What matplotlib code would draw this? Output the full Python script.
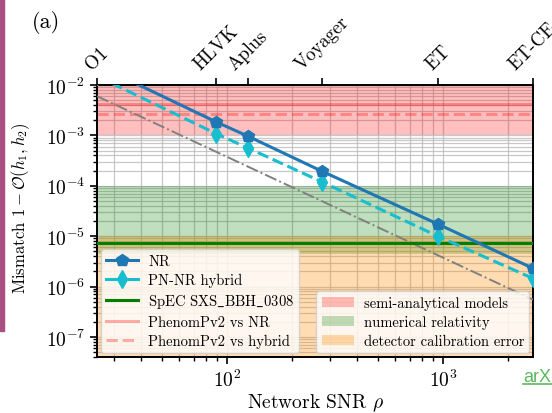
import numpy as np
import matplotlib
matplotlib.use('Agg')
import matplotlib.pyplot as plt
import matplotlib.ticker as mticker
from matplotlib.lines import Line2D
from matplotlib.patches import Patch, Rectangle

plt.rcParams['font.family'] = ['cmr10', 'DejaVu Serif']
plt.rcParams['mathtext.fontset'] = 'cm'
plt.rcParams['axes.formatter.use_mathtext'] = True
plt.rcParams['axes.unicode_minus'] = False

# ── Data ─────────────────────────────────────────────────────────────────────
detectors = ['O1', 'HLVK', 'Aplus', 'Voyager', 'ET', 'ET-CE']
snr       = [25, 89, 125, 274, 943, 2600]

mm_nr     = [2.5e-2, 1.85e-3, 9.6e-4, 1.95e-4, 1.74e-5, 2.3e-6]
mm_hybrid = [1.5e-2, 1.08e-3, 5.6e-4, 1.2e-4, 1.0e-5, 1.45e-6]

ref_snr = [25, 2600]
ref_mm  = [6.0e-3, 5.5e-7]

spec_mm        = 7.3e-6
phenom_nr_mm   = 4.2e-3
phenom_hyb_mm  = 2.6e-3

band_sa  = (1e-3, 1e-2)
band_nr  = (4.5e-6, 1e-4)
band_cal = (1e-9, 1e-5)

# ── Plot ─────────────────────────────────────────────────────────────────────
fig = plt.figure(figsize=(5.52, 4.14), dpi=100)
ax = fig.add_axes([97 / 552, 1 - 358 / 414, (533 - 97) / 552, (358 - 86) / 414])

ax.axhspan(*band_sa, color='red', alpha=0.25, lw=0, zorder=1)
ax.axhspan(*band_nr, color='green', alpha=0.25, lw=0, zorder=1)
ax.axhspan(*band_cal, color='darkorange', alpha=0.3, lw=0, zorder=1)

ax.plot(ref_snr, ref_mm, color='gray', ls='-.', lw=1.4, zorder=3)
ax.axhline(phenom_nr_mm, color='red', alpha=0.3, lw=2.2, zorder=2)
ax.axhline(phenom_hyb_mm, color='red', alpha=0.3, lw=2.2, ls='--', zorder=2)
ax.axhline(spec_mm, color='green', lw=2.2, zorder=3)

ax.plot(snr, mm_nr, color='#1f77b4', lw=2.2, marker='p', ms=9, zorder=5)
ax.plot(snr, mm_hybrid, color='#17becf', lw=2.2, ls='--', marker='d', ms=9, zorder=4)

ax.set_xscale('log')
ax.set_yscale('log')
ax.set_xlim(25, 2600)
ax.set_ylim(4e-8, 1e-2)

ax.yaxis.set_major_locator(mticker.LogLocator(base=10, numticks=20))
ax.yaxis.set_minor_locator(mticker.LogLocator(base=10, subs=np.arange(2, 10), numticks=20))
ax.yaxis.set_minor_formatter(mticker.NullFormatter())
ax.xaxis.set_minor_formatter(mticker.NullFormatter())

ax.grid(True, which='both', color='#bbbbbb', lw=0.9, alpha=0.8, zorder=0)
ax.set_axisbelow(True)
ax.tick_params(which='both', direction='out', labelsize=14, top=False, right=False)
ax.tick_params(which='major', length=5, width=1.2)
ax.tick_params(which='minor', length=3, width=1)
for sp in ax.spines.values():
    sp.set_linewidth(1.4)

ax.set_xlabel(r'Network SNR $\rho$', fontsize=14, labelpad=1)
ax.set_ylabel(r'Mismatch $1-\mathcal{O}(h_1,h_2)$', fontsize=12)
ax.yaxis.set_label_coords(-0.149, 0.55)

# detector axis on top
top = ax.secondary_xaxis('top')
top.set_xscale('log')
top.xaxis.set_major_locator(mticker.FixedLocator(snr))
top.xaxis.set_major_formatter(mticker.FixedFormatter(detectors))
top.xaxis.set_minor_locator(mticker.NullLocator())
top.tick_params(direction='out', length=5, width=1.2, labelsize=13.5)
plt.setp(top.get_xticklabels(), rotation=45)

# legends
h1 = [
    Line2D([], [], color='#1f77b4', lw=2.2, marker='p', ms=9),
    Line2D([], [], color='#17becf', lw=2.2, marker='d', ms=9),
    Line2D([], [], color='green', lw=2.2),
    Line2D([], [], color='red', alpha=0.3, lw=2.2),
    Line2D([], [], color='red', alpha=0.3, lw=2.2, ls='--'),
]
l1 = ['NR', 'PN-NR hybrid', r'SpEC SXS$\_$BBH$\_$0308',
      'PhenomPv2 vs NR', 'PhenomPv2 vs hybrid']
leg1 = ax.legend(h1, l1, loc='lower left', fontsize=10.5, handlelength=2.2,
                 borderaxespad=0.25, labelspacing=0.35, borderpad=0.35,
                 handletextpad=0.7)
ax.add_artist(leg1)

h2 = [Patch(color='red', alpha=0.25, lw=0),
      Patch(color='green', alpha=0.25, lw=0),
      Patch(color='darkorange', alpha=0.3, lw=0)]
l2 = ['semi-analytical models', 'numerical relativity', 'detector calibration error']
ax.legend(h2, l2, loc='lower right', fontsize=10.5, handlelength=2.2,
          borderaxespad=0.25, labelspacing=0.35, borderpad=0.35,
          handletextpad=0.7)

fig.text(46 / 552, 1 - 23 / 414, '(a)', fontsize=16, ha='center', va='center')

# screenshot bits: side bar and link
fig.patches.append(Rectangle((0, 1 - 332 / 414), 4 / 552, 332 / 414,
                             transform=fig.transFigure, color='#a8507f'))
fig.text(523 / 552, 1 - 382 / 414, 'arXiv', fontsize=13, color='#5cb85c',
         family='Liberation Sans', ha='left', va='baseline')
fig.add_artist(Line2D([523 / 552, 1], [1 - 385 / 414] * 2, color='#5cb85c', lw=1.2,
                      transform=fig.transFigure))

fig.savefig('out.png', dpi=100)
